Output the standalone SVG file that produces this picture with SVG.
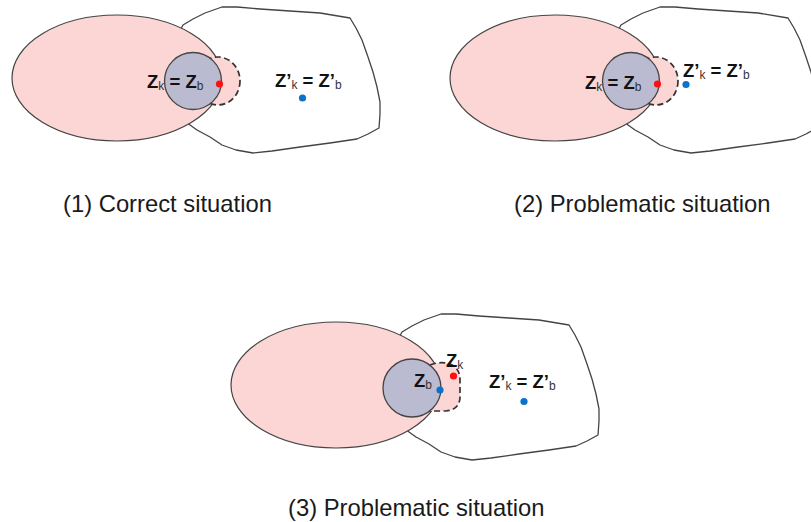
<svg xmlns="http://www.w3.org/2000/svg" xmlns:xlink="http://www.w3.org/1999/xlink" width="811" height="522" viewBox="0 0 811 522">
<style>
.blob{fill:#fff;stroke:#444;stroke-width:1.3;stroke-linejoin:round}
.ell{fill:#fcd5d5;stroke:#444;stroke-width:1.2}
.dash{fill:#fcd5d5;stroke:#333;stroke-width:1.7;stroke-dasharray:6 3.5}
.circ{fill:#babad0;stroke:#444;stroke-width:1.3}
.red{fill:#ff1010}
.blue{fill:#0a72c8}
.lab{font-family:"Liberation Sans",Arial,sans-serif;font-weight:bold;font-size:18.5px;fill:#111}
.sub{font-weight:normal;font-size:12px;fill:#333}
.cap{font-family:"Liberation Sans",Arial,sans-serif;font-size:23.8px;fill:#1a1a1a}
</style>
<defs>
<path id="blobShape" d="M 172,108 L 175,40 L 183,25 L 193,19 L 205,13 L 222,7 L 237,7 L 260,9 L 290,11 L 320,13 L 350,18 L 356,28 L 362,40 L 368,57 L 373,72 L 377,87 L 380,102 L 380,114 L 379,128 L 368,134 L 357,139 L 330,143 L 300,147 L 272,151 L 253,153 L 236,150 L 222,145 L 210,137 L 197,130 L 190,125 Z"/>
</defs>

<g id="panel1">
  <use xlink:href="#blobShape" class="blob"/>
  <ellipse class="ell" cx="117" cy="78" rx="105" ry="63"/>
  <ellipse class="dash" cx="218" cy="81" rx="22" ry="24"/>
  <circle class="circ" cx="193" cy="81" r="28.5"/>
  <circle class="red" cx="219.5" cy="84" r="3.6"/>
  <circle class="blue" cx="302.5" cy="98" r="3.6"/>
  <text class="lab" x="147" y="88">Z<tspan class="sub" dy="2">k</tspan><tspan dy="-2"> = Z</tspan><tspan class="sub" dy="2">b</tspan></text>
  <text class="lab" x="275" y="87">Z’<tspan class="sub" dy="2">k</tspan><tspan dy="-2"> = Z’</tspan><tspan class="sub" dy="2">b</tspan></text>
  <text class="cap" x="63" y="212">(1) Correct situation</text>
</g>

<g id="panel2">
  <g transform="translate(438,0)">
    <use xlink:href="#blobShape" class="blob"/>
    <ellipse class="ell" cx="117" cy="78" rx="105" ry="63"/>
    <ellipse class="dash" cx="218" cy="81" rx="22" ry="24"/>
    <circle class="circ" cx="193" cy="81" r="28.5"/>
    <circle class="red" cx="219.5" cy="84" r="3.6"/>
  </g>
  <circle class="blue" cx="686" cy="84.5" r="3.6"/>
  <text class="lab" x="585" y="89">Z<tspan class="sub" dy="2">k</tspan><tspan dy="-2"> = Z</tspan><tspan class="sub" dy="2">b</tspan></text>
  <text class="lab" x="683" y="77">Z’<tspan class="sub" dy="2">k</tspan><tspan dy="-2"> = Z’</tspan><tspan class="sub" dy="2">b</tspan></text>
  <text class="cap" x="514" y="212">(2) Problematic situation</text>
</g>

<g id="panel3">
  <g transform="translate(219,307)">
    <use xlink:href="#blobShape" class="blob"/>
    <ellipse class="ell" cx="117" cy="78" rx="105" ry="63"/>
  </g>
  <path class="dash" d="M 430,365 Q 440,361 450,364 Q 460,368 460,380 L 460,398 Q 459,410 446,411 L 430,411 Z"/>
  <circle class="circ" cx="412" cy="388" r="29"/>
  <circle class="red" cx="453.5" cy="376" r="3.6"/>
  <circle class="blue" cx="440" cy="390" r="3.6"/>
  <circle class="blue" cx="524" cy="401.5" r="3.6"/>
  <text class="lab" x="414" y="387">Z<tspan class="sub" dy="2">b</tspan></text>
  <text class="lab" x="446" y="367">Z<tspan class="sub" dy="2">k</tspan></text>
  <text class="lab" x="489" y="388">Z’<tspan class="sub" dy="2">k</tspan><tspan dy="-2"> = Z’</tspan><tspan class="sub" dy="2">b</tspan></text>
  <text class="cap" x="288" y="516">(3) Problematic situation</text>
</g>
</svg>
